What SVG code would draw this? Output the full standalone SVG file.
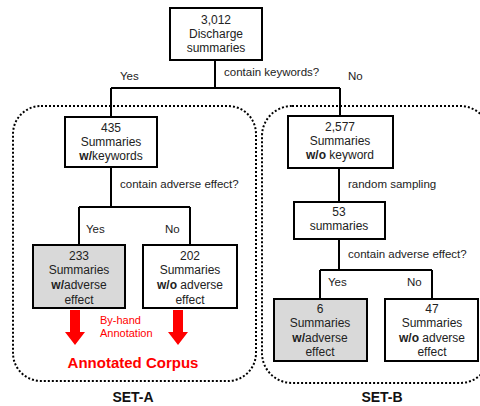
<svg xmlns="http://www.w3.org/2000/svg" width="480" height="406" viewBox="0 0 480 406">
<style>
.box{fill:#fff;stroke:#000;stroke-width:2}
.gray{fill:#d9d9d9}
.t{font-family:"Liberation Sans",Arial,sans-serif;font-size:12px;fill:#222;text-anchor:middle}
.l{font-family:"Liberation Sans",Arial,sans-serif;font-size:11.5px;fill:#222}
.b{font-weight:bold}
.c{fill:none;stroke:#000;stroke-width:2}
.dot{fill:none;stroke:#000;stroke-width:2;stroke-dasharray:2 2}
.red{fill:#ff0000}
.rt{font-family:"Liberation Sans",Arial,sans-serif;fill:#ff0000}
.set{font-family:"Liberation Sans",Arial,sans-serif;font-size:14px;font-weight:bold;fill:#111;text-anchor:middle}
</style>
<g id="set-a"><rect class="dot" x="13" y="106" width="243" height="275" rx="28"/><text class="set" x="133" y="402">SET-A</text></g>
<g id="set-b"><rect class="dot" x="262" y="106" width="228" height="277" rx="30"/><text class="set" x="382" y="402">SET-B</text></g>
<g id="connectors">
<path class="c" d="M215 60V88M111 88H340M111 88V117M340 88V116"/>
<path class="c" d="M111 167V207M79 207H190M79 207V245M190 207V245"/>
<path class="c" d="M339 168V202M339 239V270M320 270H432M320 270V299M432 270V299"/>
<text class="l" x="120" y="80">Yes</text>
<text class="l" x="224" y="76">contain keywords?</text>
<text class="l" x="348" y="80">No</text>
<text class="l" x="120" y="188">contain adverse effect?</text>
<text class="l" x="86" y="233">Yes</text>
<text class="l" x="165" y="233">No</text>
<text class="l" x="348" y="188">random sampling</text>
<text class="l" x="348" y="258">contain adverse effect?</text>
<text class="l" x="328" y="286">Yes</text>
<text class="l" x="407" y="286">No</text>
</g>
<g id="n3012"><rect class="box" x="170" y="8" width="92" height="52"/><text class="t" x="216" y="24">3,012</text><text class="t" x="216" y="38">Discharge</text><text class="t" x="216" y="52">summaries</text></g>
<g id="n435"><rect class="box" x="65" y="117" width="92" height="50"/><text class="t" x="111" y="132">435</text><text class="t" x="111" y="146">Summaries</text><text class="t" x="111" y="160"><tspan class="b">w/</tspan>keywords</text></g>
<g id="n233"><rect class="box gray" x="33" y="245" width="92" height="63"/><text class="t" x="79" y="260">233</text><text class="t" x="79" y="274">Summaries</text><text class="t" x="79" y="289"><tspan class="b">w/</tspan>adverse</text><text class="t" x="79" y="304">effect</text></g>
<g id="n202"><rect class="box" x="143" y="245" width="94" height="63"/><text class="t" x="190" y="260">202</text><text class="t" x="190" y="274">Summaries</text><text class="t" x="190" y="289"><tspan class="b">w/o</tspan> adverse</text><text class="t" x="190" y="304">effect</text></g>
<g id="n2577"><rect class="box" x="288" y="116" width="105" height="52"/><text class="t" x="340" y="131">2,577</text><text class="t" x="340" y="145">Summaries</text><text class="t" x="340" y="159"><tspan class="b">w/o</tspan> keyword</text></g>
<g id="n53"><rect class="box" x="294" y="202" width="91" height="37"/><text class="t" x="339" y="216">53</text><text class="t" x="339" y="230">summaries</text></g>
<g id="n6"><rect class="box gray" x="274" y="299" width="93" height="62"/><text class="t" x="320" y="313">6</text><text class="t" x="320" y="327">Summaries</text><text class="t" x="320" y="342"><tspan class="b">w/</tspan>adverse</text><text class="t" x="320" y="356">effect</text></g>
<g id="n47"><rect class="box" x="385" y="299" width="93" height="62"/><text class="t" x="432" y="313">47</text><text class="t" x="432" y="327">Summaries</text><text class="t" x="432" y="342"><tspan class="b">w/o</tspan> adverse</text><text class="t" x="432" y="356">effect</text></g>
<g id="annotation">
<polygon class="red" points="70,310 80,310 80,332 85,332 75,345 65,332 70,332"/>
<polygon class="red" points="173,310 183,310 183,332 188,332 178,345 168,332 173,332"/>
<text class="rt" x="100" y="324" font-size="11">By-hand</text>
<text class="rt" x="100" y="337" font-size="11">Annotation</text>
<text class="rt" x="133" y="368" font-size="15" font-weight="bold" text-anchor="middle">Annotated Corpus</text>
</g>
</svg>
